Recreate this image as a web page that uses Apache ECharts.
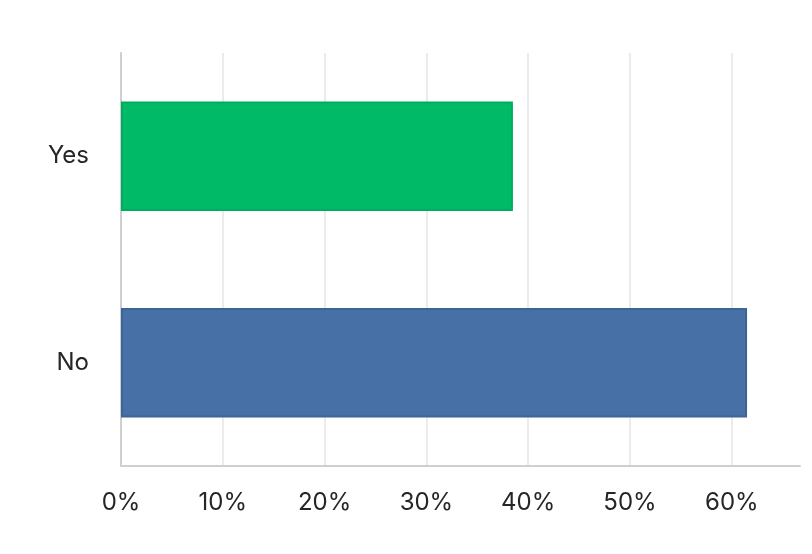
<!DOCTYPE html>
<html>
<head>
<meta charset="utf-8">
<script src="https://cdn.jsdelivr.net/npm/echarts@6/dist/echarts.min.js"></script>
<style>html,body{margin:0;padding:0;background:#fff}#c{width:812px;height:554px}</style>
</head>
<body>
<div id="c"></div>
<script>
const categories = ['No', 'Yes'];
const values = [61.5, 38.5];
const barColors = ['#4670A6', '#00BA68'];
const borderColors = ['#3E6396', '#00AD5F'];
const tickValues = [0, 10, 20, 30, 40, 50, 60];

const chart = echarts.init(document.getElementById('c'));
chart.setOption({
  animation: false,
  grid: { left: 121, top: 53, right: 12, bottom: 88, containLabel: false },
  xAxis: {
    type: 'value', min: 0, max: 66.7, interval: 10,
    axisLine: { show: true, lineStyle: { color: '#cfcfcf', width: 2 } },
    axisTick: { show: false },
    splitLine: { show: true, showMaxLine: false, lineStyle: { color: '#ebebeb', width: 2 } },
    axisLabel: {
      showMaxLabel: false,
      formatter: v => tickValues.includes(v) ? v + '%' : '',
      margin: 25, fontSize: 24, color: '#262626', fontFamily: 'Inter'
    }
  },
  yAxis: {
    type: 'category', data: categories,
    axisLine: { show: true, lineStyle: { color: '#cfcfcf', width: 2 } },
    axisTick: { show: false },
    axisLabel: { margin: 32, fontSize: 24, color: '#262626', fontFamily: 'Inter', padding: [10, 0, 0, 0] }
  },
  series: [{
    type: 'bar',
    data: values.map((v, i) => ({
      value: v,
      itemStyle: { color: barColors[i], borderColor: borderColors[i], borderWidth: 2 }
    })),
    barWidth: '53%'
  }]
});
</script>
</body>
</html>
